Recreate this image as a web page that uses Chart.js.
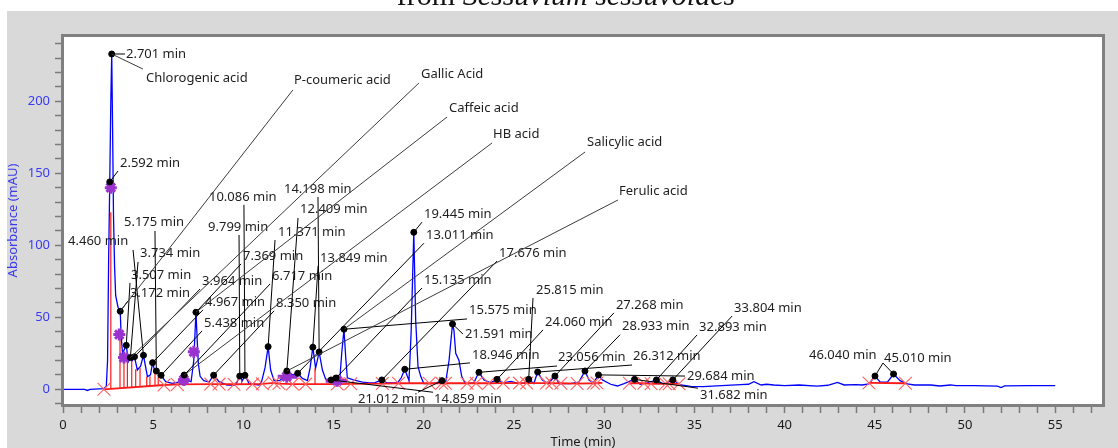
<!DOCTYPE html>
<html>
<head>
<meta charset="utf-8">
<script src="https://cdn.jsdelivr.net/npm/chart.js@4.4.1/dist/chart.umd.min.js"></script>
<style>
  html, body { margin: 0; padding: 0; background: #fff; overflow: hidden; }
  canvas { display: block; }
</style>
</head>
<body>
<canvas id="chroma" width="1118" height="448"></canvas>
<script>
// Detector trace: retention time (min) and absorbance (mAU)
const traceTime = [
  0, 0.8, 1.2, 1.35, 1.5, 2.0, 2.27, 2.4, 2.47, 2.53,
  2.592, 2.65, 2.701, 2.75, 2.8, 2.86, 2.92, 3.05, 3.172, 3.22,
  3.3, 3.507, 3.62, 3.734, 3.85, 3.964, 4.12, 4.3, 4.46, 4.68,
  4.85, 4.967, 5.08, 5.175, 5.3, 5.438, 5.69, 6.06, 6.4, 6.717,
  6.9, 7.1, 7.25, 7.369, 7.5, 7.6, 7.8, 8.1, 8.35, 8.65,
  9.1, 9.5, 9.65, 9.799, 9.95, 10.086, 10.31, 10.6, 10.86, 11.0,
  11.2, 11.371, 11.51, 11.7, 12.0, 12.2, 12.409, 12.72, 13.011, 13.27,
  13.55, 13.7, 13.849, 14.0, 14.198, 14.38, 14.56, 14.859, 15.0, 15.135,
  15.35, 15.45, 15.575, 15.67, 15.76, 16.1, 16.6, 17.0, 17.3, 17.676,
  17.98, 18.54, 18.75, 18.946, 19.09, 19.18, 19.3, 19.445, 19.55, 19.68,
  19.83, 20.0, 20.38, 20.7, 21.012, 21.2, 21.4, 21.591, 21.67, 21.77,
  21.95, 22.1, 22.3, 22.77, 23.056, 23.34, 23.7, 24.06, 24.4, 24.82,
  25.3, 25.6, 25.815, 26.1, 26.312, 26.57, 26.9, 27.268, 27.5, 28.14,
  28.6, 28.933, 29.16, 29.4, 29.684, 29.9, 30.36, 30.73, 31.1, 31.682,
  32.0, 32.4, 32.893, 33.3, 33.804, 34.25, 34.8, 35.5, 36.5, 37.57,
  38.0, 38.3, 38.7, 39.0, 39.4, 40.0, 40.8, 41.8, 42.4, 42.93,
  43.3, 43.94, 44.3, 44.68, 45.01, 45.3, 45.7, 46.04, 46.4, 46.8,
  47.2, 48.1, 48.6, 49.2, 49.5, 50.5, 51.8, 52.0, 52.2, 53.5,
  55.0
];
const traceAbs = [
  0, 0, 0, -0.8, 0, 0.3, 0.5, 2, 20, 90,
  144, 200, 232.8, 180, 120, 85, 65, 57, 54.2, 38,
  25, 30.5, 19.2, 22, 20, 22.6, 13.4, 16, 23.6, 8.8,
  10, 18.5, 13, 12.7, 10, 9.7, 5.3, 4.1, 5, 9.9,
  6, 5.3, 20, 53.5, 18, 9, 6, 5, 9.8, 5.3,
  3, 3, 5, 9.2, 6, 9.7, 4.1, 3.5, 3, 5,
  15, 29.6, 13.4, 6, 6, 8, 12.7, 10, 11.1, 7.6,
  6, 15, 29.2, 14.6, 25.9, 13.4, 7, 6.5, 5.5, 7.8,
  8, 25, 41.7, 22.6, 8, 6.5, 5, 4.5, 4.6, 6.5,
  4.4, 4.5, 8, 13.9, 9, 6, 40, 109, 48, 15.7,
  9, 4, 4, 4.5, 6, 4, 20, 45.3, 41, 25,
  20, 9, 4, 4.5, 11.8, 6.5, 4.5, 6.9, 4.5, 5.5,
  4, 4.5, 6.9, 4, 12, 6.5, 4, 9.2, 4, 4,
  5, 12.7, 6.5, 4.5, 10, 6.5, 3.5, 2.3, 4, 6.9,
  3.5, 4.5, 6.5, 3.5, 6.5, 3, 2, 1.8, 2.5, 3.2,
  3.5, 5.3, 3, 3.5, 3, 2.5, 3, 2.2, 2.8, 4.8,
  3, 3.2, 3, 3.8, 9.2, 5, 5, 10.6, 6, 3.7,
  3, 3, 2.3, 3, 2.5, 2.5, 2.2, 1.2, 2.4, 2.5,
  2.5
];

// Integrated peaks: apex retention time (min) and apex height (mAU)
const peakTime = [
  2.592, 2.701, 3.172, 3.507, 3.734, 3.964, 4.460, 4.967, 5.175, 5.438,
  6.717, 7.369, 8.350, 9.799, 10.086, 11.371, 12.409, 13.011, 13.849, 14.198,
  14.859, 15.135, 15.575, 17.676, 18.946, 19.445, 21.012, 21.591, 23.056, 24.060,
  25.815, 26.312, 27.268, 28.933, 29.684, 31.682, 32.893, 33.804, 45.010, 46.040
];
const peakAbs = [
  144, 232.8, 54.2, 30.5, 22, 22.6, 23.6, 18.5, 12.7, 9.7,
  9.9, 53.5, 9.8, 9.2, 9.7, 29.6, 12.7, 11.1, 29.2, 25.9,
  6.5, 7.8, 41.7, 6.5, 13.9, 109, 6, 45.3, 11.8, 6.9,
  6.9, 12, 9.2, 12.7, 10, 6.9, 6.5, 6.5, 9.2, 10.6
];

// Identified compounds and the peak each one is assigned to
const compoundNames = ['Chlorogenic acid', 'P-coumeric acid', 'Gallic Acid', 'Caffeic acid', 'HB acid', 'Salicylic acid', 'Ferulic acid'];
const compoundPeak = [2.701, 3.172, 3.734, 7.369, 6.717, 15.575, 12.409];

// Integration baseline (null breaks the line)
const baseTime = [2.27, 5.6, 6.34, 8.19, 8.65, 9.48, 10.5, 11.05, 11.7, 11.97, 12.72, 13.45, 15.2, 15.95, 17.7, 18.6, 20.3, 21.2, 22.4, 23.6, 24.4, 25.3, 26.8, 27.6, 28.5, 29.4, 29.9, null, 31.4, 32.2, 32.6, 33.4, 34.15, null, 44.68, 46.7];
const baseAbs  = [0, 3, 3.4, 3.6, 3.6, 3.5, 3.6, 3.8, 4.5, 4, 3.6, 3.6, 3.6, 3.8, 4, 4.2, 4.2, 4.2, 4.2, 4.2, 4.3, 4.3, 4.3, 4.2, 4, 4.2, 4.5, null, 4.2, 4.2, 3.8, 3.8, 3.8, null, 4.4, 4.2];

// Peak start / end events on the baseline
const eventTime = [2.27, 5.6, 6.34, 8.19, 8.65, 9.48, 10.5, 11.05, 11.7, 11.97, 12.72, 13.45, 15.2, 15.95, 17.7, 18.6, 20.3, 21.0, 21.2, 22.4, 22.9, 23.6, 24.4, 25.3, 25.7, 26.8, 27.1, 27.6, 28.5, 29.4, 29.6, 31.4, 32.2, 32.6, 33.4, 33.6, 34.15, 44.68, 46.7];
const eventAbs  = [0, 3, 3.4, 3.6, 3.6, 3.5, 3.6, 3.8, 4.5, 4, 3.6, 3.6, 3.6, 3.8, 4, 4.2, 4.2, 4.2, 4.2, 4.2, 4.2, 4.2, 4.3, 4.3, 4.3, 4.3, 4.3, 4.2, 4, 4.2, 4.4, 4.2, 4.2, 3.8, 3.8, 3.8, 3.8, 4.4, 4.2];

// Drop lines separating unresolved peaks
const dropTime = [2.65, 3.16, 3.38, 3.57, 3.81, 4.03, 4.27, 4.64, 4.82, 5.10, 5.28, 9.9, 13.97, 19.2];
const dropBase = [0.3, 0.8, 1.0, 1.2, 1.4, 1.6, 1.8, 2.1, 2.3, 2.5, 2.7, 3.5, 3.6, 4.2];
const dropTop  = [123, 38, 22, 19, 20, 14, 15, 8.8, 9, 12, 10, 6.5, 14.6, 6.5];

// Reference-standard markers and their windows
const refTime = [2.65, 3.12, 3.38, 6.7, 7.25, 12.4, 15.2];
const refAbs  = [140, 38, 22, 6.5, 26, 8.8, 6];
const windowFrom = [6.4, 11.9, 14.56];
const windowTo   = [7.0, 13.0, 15.76];
const windowAbs  = [6.5, 8.8, 6];

// Axis ticks
const timeTicks = [0, 5, 10, 15, 20, 25, 30, 35, 40, 45, 50, 55];
const absTicks = [0, 50, 100, 150, 200];

// Label placement: [time, mAU, leader dx, leader dy] per peak
const rtLayout = [
  [3.16, 157.1, -2, 8], [3.49, 232.8, -1, 0], [3.71, 66.9, -2, 8], [3.77, 79.4, -1, 8], [4.27, 94.7, -2, 9],
  [7.71, 75.2, -2, 8], [0.28, 103.0, 65, 9], [7.87, 60.7, -2, 8], [3.38, 116.2, 31, 9], [7.82, 46.1, -2, 8],
  [11.59, 78.7, -2, 8], [9.98, 92.6, -2, 8], [11.81, 60.0, -2, 8], [8.04, 112.7, 31, 8], [8.09, 133.6, 35, 8],
  [11.92, 109.2, -3, 8], [13.14, 125.2, -2, 9], [20.12, 107.0, -2, 8], [14.25, 91.2, -2, 8], [12.25, 139.1, 34, 8],
  [20.57, -6.9, -1, -7], [20.01, 75.9, -2, 8], [22.51, 55.1, -2, 9], [24.17, 94.6, -2, 8], [22.67, 23.9, -2, 8],
  [20.01, 121.6, -2, 8], [16.35, -6.9, 60, -7], [22.28, 38.4, -2, 0], [27.44, 22.4, -1, 9], [26.72, 46.8, -2, 8],
  [26.22, 68.9, -3, 8], [31.60, 23.1, -1, 9], [30.65, 58.6, -2, 8], [30.99, 43.4, -2, 8], [34.59, 9.2, -2, 0],
  [35.31, -4.1, -2, -7], [35.26, 43.3, -2, 8], [37.20, 56.4, -2, 8], [45.51, 21.7, -1, 5], [41.35, 23.8, 74, 8]
];
const compoundLayout = [
  [4.60, 216.1, -3, -9], [12.80, 214.8, -1, 10], [19.84, 218.9, -2, 9], [21.40, 195.3, -2, 9],
  [23.84, 177.3, -1, 9], [29.05, 171.7, -2, 10], [30.82, 137.7, -1, 9]
];

const pts = (xs, ys) => xs.map((x, i) => ({ x, y: ys[i] }));

const baselinePts = baseTime.map((t, i) => ({ x: t === null ? baseTime[i - 1] : t, y: baseAbs[i] }));
const dropPts = [];
dropTime.forEach((t, i) => {
  dropPts.push({ x: t, y: dropBase[i] }, { x: t, y: dropTop[i] }, { x: t, y: null });
});
const windowPts = [];
windowFrom.forEach((t, i) => {
  windowPts.push({ x: t, y: windowAbs[i] }, { x: windowTo[i], y: windowAbs[i] }, { x: windowTo[i], y: null });
});

const FONT = '"Noto Sans", "DejaVu Sans", sans-serif';
const BLUE_TEXT = '#3a3af0';

const decor = {
  id: 'decor',
  beforeDraw(chart) {
    const { ctx, chartArea: a, width, height } = chart;
    ctx.save();
    ctx.fillStyle = '#ffffff';
    ctx.fillRect(0, 0, width, height);
    ctx.fillStyle = '#d9d9d9';
    ctx.fillRect(7, 11, width - 7, height - 11);
    ctx.fillStyle = '#ffffff';
    ctx.fillRect(a.left, a.top, a.right - a.left, a.bottom - a.top);
    // page heading above the panel
    const lead = 'from ', species = 'Sessuvium sessuvoides';
    ctx.fillStyle = '#111';
    ctx.textBaseline = 'alphabetic';
    ctx.font = '30px "Liberation Serif", serif';
    const w1 = ctx.measureText(lead).width;
    ctx.font = 'italic 30px "Liberation Serif", serif';
    const w2 = ctx.measureText(species).width;
    const x0 = 566 - (w1 + w2) / 2;
    ctx.font = '30px "Liberation Serif", serif';
    ctx.fillText(lead, x0, 5);
    ctx.font = 'italic 30px "Liberation Serif", serif';
    ctx.fillText(species, x0 + w1, 5);
    ctx.restore();
  },
  afterDatasetsDraw(chart) {
    const { ctx } = chart;
    const xs = chart.scales.x, ys = chart.scales.y;
    ctx.save();
    ctx.font = '13px ' + FONT;
    ctx.textBaseline = 'middle';
    ctx.textAlign = 'left';
    ctx.fillStyle = '#1e1e1e';
    peakTime.forEach((t, i) => {
      const [lt, ly] = rtLayout[i];
      ctx.fillText(t.toFixed(3) + ' min', xs.getPixelForValue(lt), ys.getPixelForValue(ly));
    });
    compoundNames.forEach((name, i) => {
      const [lt, ly] = compoundLayout[i];
      ctx.fillText(name, xs.getPixelForValue(lt), ys.getPixelForValue(ly));
    });
    ctx.lineWidth = 1;
    ctx.strokeStyle = '#000';
    peakTime.forEach((t, i) => {
      const [lt, ly, dx, dy] = rtLayout[i];
      ctx.beginPath();
      ctx.moveTo(xs.getPixelForValue(t), ys.getPixelForValue(peakAbs[i]));
      ctx.lineTo(xs.getPixelForValue(lt) + dx, ys.getPixelForValue(ly) + dy);
      ctx.stroke();
    });
    ctx.strokeStyle = '#3c3c3c';
    compoundNames.forEach((name, i) => {
      const k = peakTime.indexOf(compoundPeak[i]);
      const [lt, ly, dx, dy] = compoundLayout[i];
      ctx.beginPath();
      ctx.moveTo(xs.getPixelForValue(peakTime[k]), ys.getPixelForValue(peakAbs[k]));
      ctx.lineTo(xs.getPixelForValue(lt) + dx, ys.getPixelForValue(ly) + dy);
      ctx.stroke();
    });
    ctx.restore();
  },
  afterDraw(chart) {
    const { ctx, chartArea: a } = chart;
    ctx.save();
    ctx.strokeStyle = '#808080';
    ctx.lineWidth = 3;
    ctx.strokeRect(a.left - 0.5, a.top - 0.5, a.right - a.left + 1, a.bottom - a.top + 1);
    ctx.restore();
  }
};

Chart.defaults.font.family = FONT;
Chart.defaults.font.size = 13;

new Chart(document.getElementById('chroma'), {
  type: 'line',
  data: {
    datasets: [
      { label: 'trace', data: pts(traceTime, traceAbs), borderColor: '#0000ff', borderWidth: 1.3, pointRadius: 0, tension: 0, order: 6 },
      { label: 'drops', data: dropPts, borderColor: '#ff1a1a', borderWidth: 1.2, pointRadius: 0, spanGaps: false, order: 5 },
      { label: 'baseline', data: baselinePts, borderColor: '#ff1a1a', borderWidth: 1.8, pointRadius: 0, spanGaps: false, order: 4 },
      { label: 'windows', data: windowPts, borderColor: '#9a32cd', borderWidth: 4, pointRadius: 0, spanGaps: false, order: 3 },
      { label: 'events', data: pts(eventTime, eventAbs), showLine: false, pointStyle: 'crossRot', pointRadius: 9, pointBorderColor: '#ff6060', pointBorderWidth: 1.1, order: 2 },
      { label: 'standards', data: pts(refTime, refAbs), showLine: false, pointStyle: 'star', pointRadius: 6, pointBorderColor: '#9a32cd', pointBackgroundColor: '#9a32cd', pointBorderWidth: 3, order: 1 },
      { label: 'apex', data: pts(peakTime, peakAbs), showLine: false, pointStyle: 'circle', pointRadius: 3, pointBackgroundColor: '#000', pointBorderColor: '#000', order: 0 }
    ]
  },
  options: {
    responsive: false,
    animation: false,
    events: [],
    layout: { padding: { left: 0, right: 15, top: 36, bottom: 0 } },
    plugins: { legend: { display: false }, tooltip: { enabled: false } },
    scales: {
      x: {
        type: 'linear', min: 0, max: 57.65,
        afterFit: s => { s.height = 43; },
        border: { display: false },
        grid: { display: true, drawOnChartArea: false, drawTicks: true, tickLength: 8, tickColor: '#7a7a7a', tickWidth: 1.5 },
        ticks: {
          stepSize: 1, autoSkip: false, maxRotation: 0, includeBounds: false, padding: 4, color: '#1a1a1a',
          callback: v => timeTicks.includes(v) ? String(v) : ''
        },
        title: { display: true, text: 'Time (min)', color: '#1a1a1a', padding: { top: 0, bottom: -2 } }
      },
      y: {
        type: 'linear', min: -10.9, max: 245.3,
        afterFit: s => { s.width = 63; },
        border: { display: false },
        grid: { display: true, drawOnChartArea: false, drawTicks: true, tickLength: 8, tickColor: '#7a7a7a', tickWidth: 1.5 },
        ticks: {
          stepSize: 10, autoSkip: false, includeBounds: false, padding: 5, color: BLUE_TEXT,
          callback: v => absTicks.includes(v) ? String(v) : ''
        },
        title: { display: true, text: 'Absorbance (mAU)', color: BLUE_TEXT, padding: { top: 5, bottom: 0 } }
      }
    }
  },
  plugins: [decor]
});
</script>
</body>
</html>
